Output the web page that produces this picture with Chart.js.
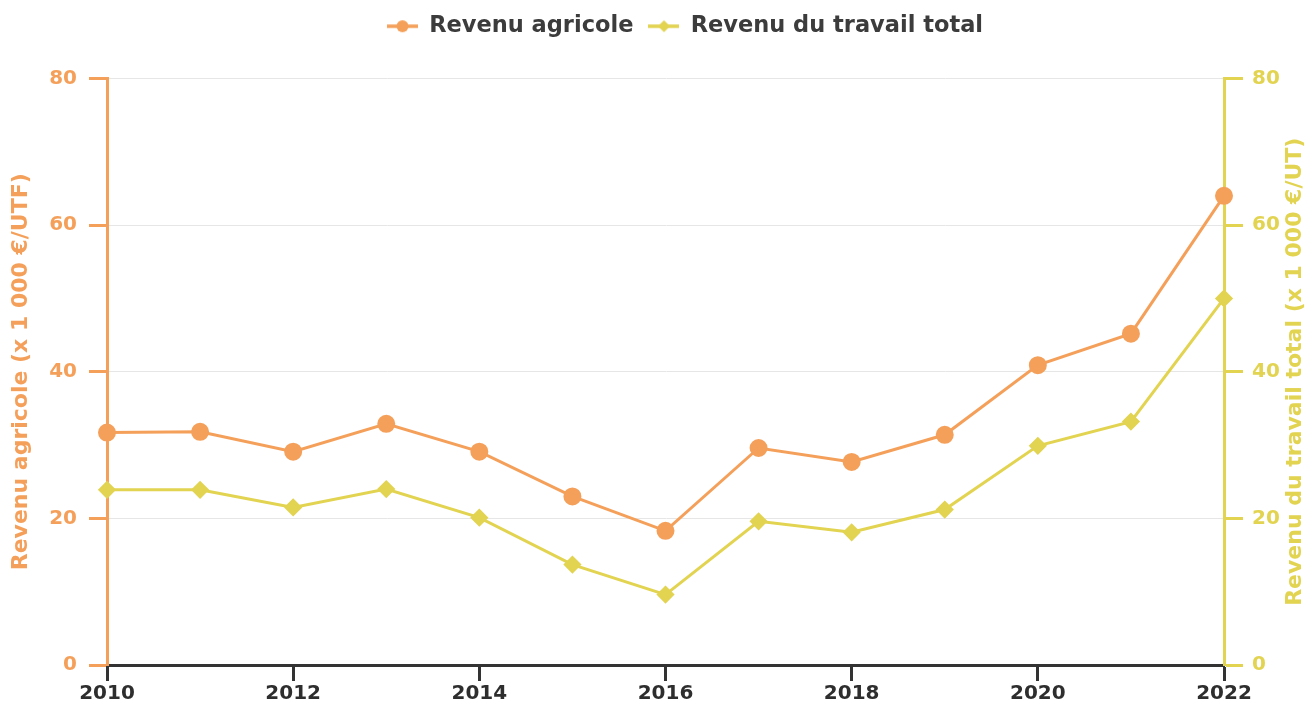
<!DOCTYPE html>
<html>
<head>
<meta charset="utf-8">
<script src="https://cdn.jsdelivr.net/npm/chart.js@4.4.1/dist/chart.umd.min.js"></script>
<style>
  html, body { margin: 0; padding: 0; background: #fff; }
  #wrap { width: 1308px; height: 707px; }
</style>
</head>
<body>
<div id="wrap"><canvas id="myChart" width="1308" height="707"></canvas></div>
<script>
// years along the x-axis
var years = [2010, 2011, 2012, 2013, 2014, 2015, 2016, 2017, 2018, 2019, 2020, 2021, 2022];
// revenu agricole (x 1 000 €/UTF)
var revenuAgricole = [31.7, 31.8, 29.1, 32.9, 29.1, 23.0, 18.3, 29.6, 27.7, 31.4, 40.9, 45.2, 64.0];
// revenu du travail total (x 1 000 €/UT)
var revenuTravail = [23.9, 23.9, 21.5, 24.0, 20.1, 13.7, 9.6, 19.6, 18.1, 21.2, 29.9, 33.2, 50.0];
var yTicks = [0, 20, 40, 60, 80];
var rightTitle = "Revenu du travail total (x 1 000 €/UT)";

var orange = "#f5a05a";
var yellow = "#e2d351";
var font = "'DejaVu Sans', sans-serif";

function pairs(vals) {
  return vals.map(function (v, i) { return { x: years[i], y: v }; });
}

// little line + marker icon for the legend
function legendIcon(color, style) {
  var c = document.createElement("canvas");
  c.width = 31; c.height = 16;
  var g = c.getContext("2d");
  g.strokeStyle = color;
  g.lineWidth = 3.5;
  g.beginPath(); g.moveTo(0, 8); g.lineTo(31, 8); g.stroke();
  g.fillStyle = color;
  g.beginPath();
  if (style === "circle") {
    g.arc(15.5, 8, 6, 0, Math.PI * 2);
  } else {
    g.moveTo(15.5, 2); g.lineTo(21.5, 8); g.lineTo(15.5, 14); g.lineTo(9.5, 8); g.closePath();
  }
  g.fill();
  return c;
}

// extra room under the legend, and shift it a bit to the right
var legendTweak = {
  id: "legendTweak",
  beforeInit: function (chart) {
    var lg = chart.legend;
    var fit = lg.fit;
    lg.fit = function () {
      fit.call(this);
      this.height += 31;
    };
    var draw = lg.draw;
    lg.draw = function () {
      var g = this.ctx;
      g.save();
      g.translate(27, 0);
      draw.call(this);
      g.restore();
    };
  }
};

// right title reads bottom-to-top like the left one
var rightTitlePlugin = {
  id: "rightTitle",
  afterDraw: function (chart) {
    var s = chart.scales.y1;
    var g = chart.ctx;
    g.save();
    g.translate(s.right - 13, (s.top + s.bottom) / 2);
    g.rotate(-Math.PI / 2);
    g.font = "bold 22px " + font;
    g.fillStyle = yellow;
    g.textAlign = "center";
    g.textBaseline = "middle";
    g.fillText(rightTitle, 0, 0);
    g.restore();
  }
};

var ctx = document.getElementById("myChart");
var myChart = new Chart(ctx, {
  type: "line",
  plugins: [legendTweak, rightTitlePlugin],
  data: {
    datasets: [
      {
        label: "Revenu agricole",
        data: pairs(revenuAgricole),
        borderColor: orange,
        backgroundColor: orange,
        borderWidth: 3,
        pointStyle: "circle",
        pointRadius: 7.5,
        pointHoverRadius: 7.5,
        yAxisID: "y",
        clip: false,
        fill: false
      },
      {
        label: "Revenu du travail total",
        data: pairs(revenuTravail),
        borderColor: yellow,
        backgroundColor: yellow,
        borderWidth: 3,
        pointStyle: "rectRot",
        pointRadius: 7,
        pointHoverRadius: 7,
        yAxisID: "y1",
        clip: false,
        fill: false
      }
    ]
  },
  options: {
    responsive: false,
    animation: false,
    layout: { padding: { top: 0, left: 8, right: 0, bottom: 0 } },
    plugins: {
      tooltip: { enabled: false },
      legend: {
        position: "top",
        labels: {
          usePointStyle: true,
          pointStyleWidth: 31,
          color: "#3c3c3c",
          padding: 15,
          font: { family: font, size: 22.5, weight: "bold" },
          generateLabels: function (chart) {
            return chart.data.datasets.map(function (ds, i) {
              return {
                text: ds.label,
                pointStyle: legendIcon(ds.borderColor, ds.pointStyle === "circle" ? "circle" : "diamond"),
                fillStyle: ds.borderColor,
                strokeStyle: ds.borderColor,
                lineWidth: 0,
                fontColor: "#3c3c3c",
                datasetIndex: i
              };
            });
          }
        }
      }
    },
    scales: {
      x: {
        type: "linear",
        min: 2010,
        max: 2022,
        border: { color: "#333", width: 3 },
        grid: { drawOnChartArea: false, tickColor: "#333", tickLength: 16, tickWidth: 3 },
        ticks: {
          stepSize: 2,
          color: "#2e2e2e",
          padding: 1,
          font: { family: font, size: 20, weight: "bold" },
          callback: function (v) { return String(v); }
        }
      },
      y: {
        position: "left",
        min: 0,
        max: 80,
        afterBuildTicks: function (axis) { axis.ticks = yTicks.map(function (v) { return { value: v }; }); },
        afterFit: function (axis) { axis.width = 99; },
        border: { color: orange, width: 3 },
        grid: { color: "#e6e6e6", lineWidth: 1, tickColor: orange, tickLength: 18, tickWidth: 3 },
        ticks: { color: orange, padding: 12, font: { family: font, size: 20, weight: "bold" } },
        title: {
          display: true,
          text: "Revenu agricole (x 1 000 €/UTF)",
          color: orange,
          padding: { top: 0, bottom: 0 },
          font: { family: font, size: 22, weight: "bold" }
        }
      },
      y1: {
        position: "right",
        min: 0,
        max: 80,
        afterBuildTicks: function (axis) { axis.ticks = yTicks.map(function (v) { return { value: v }; }); },
        afterFit: function (axis) { axis.width = 84; },
        border: { color: yellow, width: 3 },
        grid: { drawOnChartArea: false, tickColor: yellow, tickLength: 19, tickWidth: 3 },
        ticks: { color: yellow, padding: 9, font: { family: font, size: 20, weight: "bold" } }
      }
    }
  }
});
</script>
</body>
</html>
